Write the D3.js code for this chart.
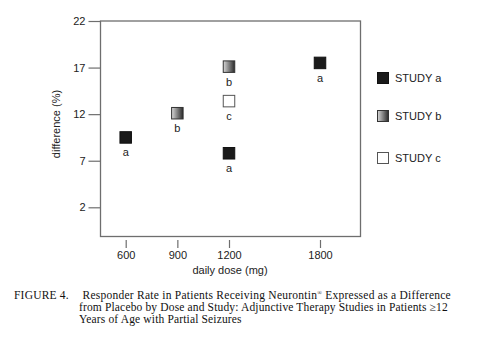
<!DOCTYPE html>
<html><head><meta charset="utf-8">
<script src="https://cdn.jsdelivr.net/npm/d3@7"></script>
<style>body{margin:0;background:#fff}svg{display:block}</style>
</head><body>
<script>
const xTicks = [600, 900, 1200, 1800];
const yTicks = [2, 7, 12, 17, 22];
const studies = ["a", "b", "c"];
const studyA = [{dose:600, v:9.5}, {dose:1200, v:7.8}, {dose:1800, v:17.5}];
const studyB = [{dose:900, v:12.1}, {dose:1200, v:17.1}];
const studyC = [{dose:1200, v:13.4}];
const captionLines = [
  ["FIGURE 4.", "Responder Rate in Patients Receiving Neurontin", "®", " Expressed as a Difference"],
  ["", "from Placebo by Dose and Study: Adjunctive Therapy Studies in Patients \u226512"],
  ["", "Years of Age with Partial Seizures"]
];

const W = 480, H = 345;
const svg = d3.select("body").append("svg").attr("width", W).attr("height", H);
const defs = svg.append("defs");
const g = defs.append("linearGradient").attr("id","gradB").attr("x1","0").attr("x2","1").attr("y1","0").attr("y2","0");
g.append("stop").attr("offset","0").attr("stop-color","#d8d8d8");
g.append("stop").attr("offset","1").attr("stop-color","#2a2a2a");

const box = {l:100.5, t:21, r:360.5, b:236.5};
const x = d3.scaleLinear().domain([600, 1200, 1800]).range([125.7, 229, 320]);
const y = d3.scaleLinear().domain([2, 22]).range([207.3, 21]);

const axisCol = "#6e6e6e";
const font = "'Liberation Sans', Arial, Helvetica, sans-serif";

// frame
svg.append("rect").attr("x", box.l).attr("y", box.t).attr("width", box.r-box.l).attr("height", box.b-box.t)
  .attr("fill","none").attr("stroke", axisCol).attr("stroke-width", 1.3);

// y axis
const ya = svg.append("g").attr("transform", `translate(${box.l},0)`)
  .call(d3.axisLeft(y).tickValues(yTicks).tickSize(12).tickPadding(3));
ya.select(".domain").remove();
ya.selectAll(".tick line").attr("stroke", axisCol).attr("stroke-width", 1.2);
ya.selectAll(".tick text").attr("font-family", font).attr("font-size", 11).attr("fill","#222");

// x ticks (detached below axis)
const xa = svg.append("g").attr("transform", `translate(0,${box.b+3.5})`)
  .call(d3.axisBottom(x).tickValues(xTicks).tickSize(8).tickPadding(3).tickFormat(d3.format("d")));
xa.select(".domain").remove();
xa.selectAll(".tick line").attr("stroke", axisCol).attr("stroke-width", 1.2);
xa.selectAll(".tick text").attr("font-family", font).attr("font-size", 11).attr("fill","#222");

svg.append("text").attr("x", 230).attr("y", 274).attr("text-anchor","middle")
  .attr("font-family", font).attr("font-size", 11).attr("fill","#222").text("daily dose (mg)");
svg.append("text").attr("transform","translate(60,124) rotate(-90)").attr("text-anchor","middle")
  .attr("font-family", font).attr("font-size", 11).attr("fill","#222").text("difference (%)");

const fills = {a:"#1a1a1a", b:"url(#gradB)", c:"#ffffff"};
const strokes = {a:"#111", b:"#333", c:"#555"};
const data = {a:studyA, b:studyB, c:studyC};
const S = 11.5;
studies.forEach(s => {
  const grp = svg.append("g");
  grp.selectAll("rect").data(data[s]).join("rect")
    .attr("x", d => x(d.dose) - S/2).attr("y", d => y(d.v) - S/2)
    .attr("width", S).attr("height", S)
    .attr("fill", fills[s]).attr("stroke", strokes[s]).attr("stroke-width", 1);
  grp.selectAll("text").data(data[s]).join("text")
    .attr("x", d => x(d.dose)).attr("y", d => y(d.v) + 19)
    .attr("text-anchor","middle").attr("font-family", font).attr("font-size", 11).attr("fill","#222")
    .text(s);
});

// legend
const legY = [78, 116, 158];
studies.forEach((s, i) => {
  svg.append("rect").attr("x", 377.5).attr("y", legY[i] - 5.5).attr("width", 11).attr("height", 11)
    .attr("fill", fills[s]).attr("stroke", strokes[s]).attr("stroke-width", 1);
  svg.append("text").attr("x", 395).attr("y", legY[i] + 4).attr("font-family", font).attr("font-size", 11)
    .attr("fill","#222").text("STUDY " + s);
});

// caption
const serif = "'Liberation Serif', 'Times New Roman', serif";
const capY = [299, 311, 323];
captionLines.forEach((ln, i) => {
  if (ln[0]) svg.append("text").attr("x", 14).attr("y", capY[i]).attr("font-family", serif).attr("font-size", 11.5)
    .attr("letter-spacing", 0.2).attr("fill","#111").text(ln[0]);
  const t = svg.append("text").attr("x", i === 0 ? 82.5 : 79).attr("y", capY[i]).attr("font-family", serif)
    .attr("font-size", 11.5).attr("letter-spacing", i === 0 ? 0.25 : 0.15).attr("fill","#111");
  t.append("tspan").text(ln[1]);
  if (ln[2]) {
    t.append("tspan").attr("font-size", 6).attr("dy", -4).text(ln[2]);
    t.append("tspan").attr("dy", 4).text(ln[3]);
  }
});
</script>
</body></html>
